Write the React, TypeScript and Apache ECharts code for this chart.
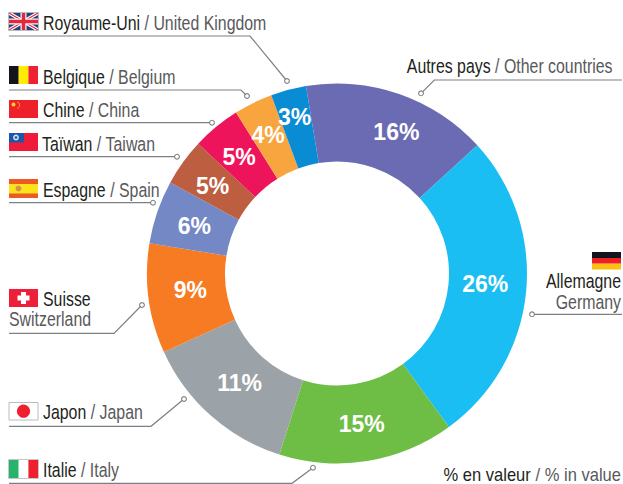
import React, { useEffect, useRef } from "react";
import * as echarts from "echarts";

const namesFr = ["Autres pays", "Allemagne", "Italie", "Japon", "Suisse", "Espagne", "Taïwan", "Chine", "Belgique", "Royaume-Uni"];
const namesEn = ["Other countries", "Germany", "Italy", "Japan", "Switzerland", "Spain", "Taiwan", "China", "Belgium", "United Kingdom"];
const shares = [15.8, 26.7, 14.9, 13.3, 9.3, 5.4, 4.0, 4.1, 3.3, 3.0];
const percentLabels = ["16%", "26%", "15%", "11%", "9%", "6%", "5%", "5%", "4%", "3%"];
const sliceColors = ["#6A6BB3", "#1BBEF2", "#6EBE45", "#9CA3A8", "#F67B22", "#7588C6", "#BD5E41", "#EE145B", "#F9A53F", "#0A8CD5"];
const labelNudges = [[9, 4], [-5, -5], [0, -2], [5, -6], [6, -3.5], [3, 2], [0.5, 3], [0, 2], [-1, 0], [-3, -8]];
const unitFr = "% en valeur";
const unitEn = "% in value";

const FONT = '"Liberation Sans", Arial, sans-serif';
const LINE = "#7d7f82";
const SIZE = 19.5;
const NARROW = 0.815;

function caption(x: number, baseline: number, fr: string, en: string, align = "left", size = SIZE, narrow = NARROW) {
  const parts = [fr ? `{a|${fr}}` : "", fr && en ? "{b| / }" : "", en ? `{b|${en}}` : ""].join("");
  return {
    type: "text", x, y: baseline - 6.5, scaleX: narrow, silent: true,
    style: {
      text: parts, align, verticalAlign: "middle",
      rich: {
        a: { fontFamily: FONT, fontSize: size, lineHeight: 13, fill: "#231f20", fontWeight: 400 },
        b: { fontFamily: FONT, fontSize: size, lineHeight: 13, fill: "#58595b", fontWeight: 400 },
      },
    },
  };
}
function leader(points: number[][], dot: number[]) {
  return [
    { type: "polyline", silent: true, shape: { points }, style: { stroke: LINE, lineWidth: 1.2, fill: "none" } },
    { type: "circle", silent: true, shape: { cx: dot[0], cy: dot[1], r: 2.4 }, style: { fill: "#fff", stroke: LINE, lineWidth: 1.1 } },
  ];
}
const rect = (x: number, y: number, width: number, height: number, fill: string, stroke?: string) => ({
  type: "rect", silent: true, shape: { x, y, width, height }, style: stroke ? { fill, stroke, lineWidth: 1 } : { fill },
});
const circ = (cx: number, cy: number, r: number, fill: string) => ({ type: "circle", silent: true, shape: { cx, cy, r }, style: { fill } });
const seg = (x1: number, y1: number, x2: number, y2: number, stroke: string, lineWidth: number) => ({
  type: "line", silent: true, shape: { x1, y1, x2, y2 }, style: { stroke, lineWidth },
});

function flags() {
  const x = 9, w = 29;
  return [
    // United Kingdom
    rect(x, 13, w, 17, "#24407F"),
    seg(x, 13, x + w, 30, "#fff", 3.4), seg(x, 30, x + w, 13, "#fff", 3.4),
    seg(x, 13, x + w, 30, "#E4283C", 1.2), seg(x, 30, x + w, 13, "#E4283C", 1.2),
    rect(x, 18.5, w, 6, "#fff"), rect(x + 11.5, 13, 6, 17, "#fff"),
    rect(x, 19.7, w, 3.6, "#E4283C"), rect(x + 12.7, 13, 3.6, 17, "#E4283C"),
    rect(x - 0.5, 12.5, w + 1, 18, "none", "#b9bbbd"),
    // Belgium
    rect(x, 66, 9.7, 18, "#14141c"), rect(x + 9.7, 66, 9.7, 18, "#FFEC00"), rect(x + 19.4, 66, 9.6, 18, "#EE2230"),
    // China
    rect(x, 100, w, 18, "#EE2029"),
    circ(x + 4.5, 104.5, 2, "#F8D12B"), circ(x + 9, 102.5, 0.6, "#F8D12B"), circ(x + 10.5, 104, 0.6, "#F8D12B"),
    circ(x + 10.5, 106, 0.6, "#F8D12B"), circ(x + 9, 108, 0.6, "#F8D12B"),
    // Taiwan
    rect(x, 133, w, 18, "#EE1C3A"), rect(x, 133, 15, 9.5, "#1B57A6"),
    circ(x + 7, 137.5, 2.9, "#DDE7F5"), circ(x + 7, 137.5, 1.5, "#2C69B5"),
    // Spain
    rect(x, 179, w, 19, "#EE5A24"), rect(x, 184, w, 9.5, "#FCE41C"), circ(x + 9.5, 188.5, 3, "#D9924A"),
    // Switzerland
    rect(x, 289, w, 18, "#EE2039"), rect(x + 12, 292, 5, 12, "#fff"), rect(x + 8.5, 295.5, 12, 5, "#fff"),
    // Japan
    rect(x, 402.5, w, 17.5, "#fff", "#b9bbbd"), circ(x + 14.5, 411.2, 6.6, "#EE2030"),
    // Italy
    rect(x, 460, 9.7, 18, "#27B36B"), rect(x + 9.7, 460, 9.7, 18, "#fff"), rect(x + 19.4, 460, 9.6, 18, "#EE2030"),
    rect(x - 0.5, 459.5, w + 1, 19, "none", "#c4c6c8"),
    // Germany
    rect(592, 252, 29, 6, "#14141c"), rect(592, 258, 29, 5.7, "#EE2027"), rect(592, 263.7, 29, 5.8, "#FDC010"),
  ];
}

export default function App() {
  const ref = useRef<HTMLDivElement>(null);
  useEffect(() => {
    const chart = echarts.init(ref.current!, null, { renderer: "svg" });
    const i = (n: string) => namesFr.indexOf(n);
    chart.setOption({
      animation: false,
      backgroundColor: "#fff",
      series: [{
        type: "pie",
        center: [337, 273.5],
        radius: [112, 190],
        startAngle: 99.4,
        clockwise: true,
        silent: true,
        avoidLabelOverlap: false,
        labelLine: { show: false },
        label: {
          show: true, position: "inside", color: "#fff",
          fontFamily: FONT, fontWeight: "bold", fontSize: 23,
          formatter: (p: any) => percentLabels[p.dataIndex],
        },
        labelLayout: (p: any) => ({ dx: labelNudges[p.dataIndex][0], dy: labelNudges[p.dataIndex][1] }),
        data: shares.map((value, k) => ({ value, name: namesFr[k], itemStyle: { color: sliceColors[k] } })),
      }],
      graphic: { elements: [
        ...flags(),
        ...leader([[9, 36], [250, 36], [287, 81]], [287, 81]),
        ...leader([[9, 90], [241, 90], [247, 96]], [247, 96]),
        ...leader([[9, 122.7], [212, 122.7]], [212, 122.7]),
        ...leader([[9, 156.7], [177, 156.7]], [177, 156.7]),
        ...leader([[9, 202.7], [153, 202.7]], [153, 202.7]),
        ...leader([[9, 333.3], [114, 333.3], [142, 305]], [142, 305]),
        ...leader([[9, 426.3], [151, 426.3], [184, 399]], [184, 399]),
        ...leader([[9, 483.3], [292, 483.3], [313, 467.7]], [313, 467.7]),
        ...leader([[622, 314.3], [532, 314.3]], [532, 314.3]),
        ...leader([[622, 80], [434.3, 80], [421, 93.3]], [421, 93.3]),
        caption(43, 30, namesFr[i("Royaume-Uni")], namesEn[i("Royaume-Uni")]),
        caption(43, 83.5, namesFr[i("Belgique")], namesEn[i("Belgique")]),
        caption(43, 117, namesFr[i("Chine")], namesEn[i("Chine")]),
        caption(42, 150.7, namesFr[i("Taïwan")], namesEn[i("Taïwan")]),
        caption(43, 197, namesFr[i("Espagne")], namesEn[i("Espagne")]),
        caption(43, 305.7, namesFr[i("Suisse")], ""),
        caption(9, 325.7, "", namesEn[i("Suisse")]),
        caption(43, 419, namesFr[i("Japon")], namesEn[i("Japon")]),
        caption(43, 476.7, namesFr[i("Italie")], namesEn[i("Italie")]),
        caption(612.5, 72.7, namesFr[i("Autres pays")], namesEn[i("Autres pays")], "right"),
        caption(621, 288, namesFr[i("Allemagne")], "", "right"),
        caption(621, 309, "", namesEn[i("Allemagne")], "right"),
        caption(621, 481, unitFr, unitEn, "right", 18, 0.92),
      ] },
    });
    return () => chart.dispose();
  }, []);
  return <div ref={ref} style={{ position: "fixed", left: 0, top: 0, width: 623, height: 484 }} />;
}
